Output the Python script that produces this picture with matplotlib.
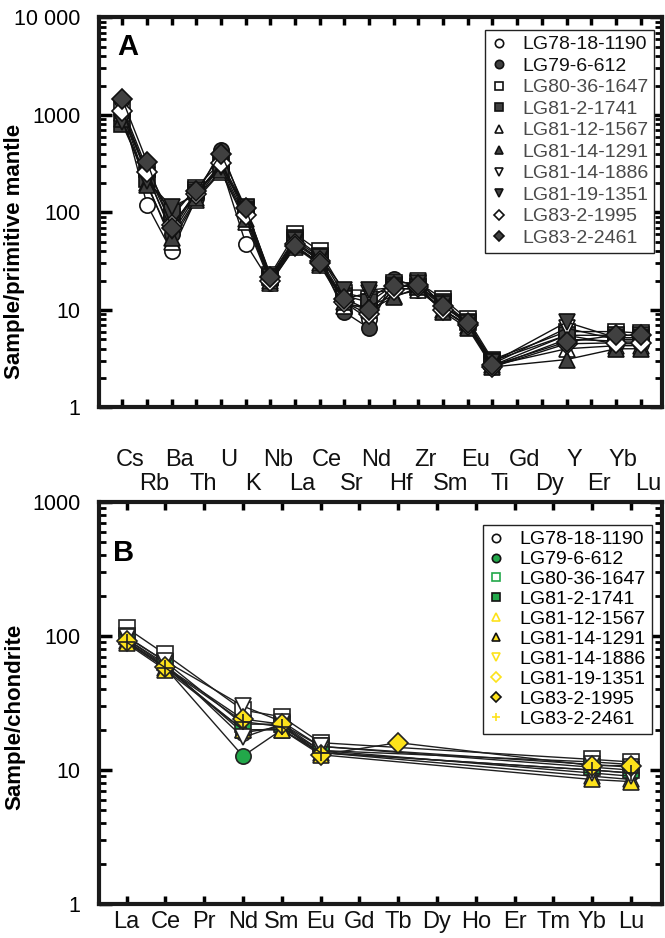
import numpy as np
import matplotlib
matplotlib.use("Agg")
import matplotlib.pyplot as plt
from matplotlib.lines import Line2D
from matplotlib.ticker import FixedLocator, FixedFormatter, LogLocator, NullFormatter

plt.rcParams['font.family'] = ['Liberation Sans', 'DejaVu Sans']

samples = ["LG78-18-1190", "LG79-6-612", "LG80-36-1647", "LG81-2-1741",
           "LG81-12-1567", "LG81-14-1291", "LG81-14-1886", "LG81-19-1351",
           "LG83-2-1995", "LG83-2-2461"]

# panel A: primitive-mantle normalised (Gd, Dy, Er not measured)
pm_elements = ["Cs", "Rb", "Ba", "Th", "U", "K", "Nb", "La", "Ce", "Sr", "Nd",
               "Hf", "Zr", "Sm", "Eu", "Ti", "Gd", "Dy", "Y", "Er", "Yb", "Lu"]
nan = np.nan
pm_lg78_18_1190 = [1100, 120, 40, 140, 300, 48, 19, 45, 30, 12, 8, 17, 16, 10, 7.0, 2.7, nan, nan, 5.5, nan, 4.5, 4.5]
pm_lg79_6_612 = [1000, 250, 60, 150, 440, 100, 21, 50, 33, 9.5, 6.5, 21, 17, 11, 7.5, 2.6, nan, nan, 5.0, nan, 4.8, 4.8]
pm_lg80_36_1647 = [1200, 280, 90, 180, 330, 110, 23, 60, 40, 15, 13, 19, 19, 13, 8.0, 3.1, nan, nan, 6.0, nan, 6.0, 5.8]
pm_lg81_2_1741 = [800, 220, 100, 170, 280, 115, 22, 55, 36, 14, 12, 18, 17, 12, 7.5, 3.0, nan, nan, 5.5, nan, 5.5, 5.5]
pm_lg81_12_1567 = [1050, 200, 50, 135, 260, 80, 19, 44, 29, 11, 11, 14, 16, 10, 6.8, 2.7, nan, nan, 4.0, nan, 4.3, 4.3]
pm_lg81_14_1291 = [900, 190, 55, 140, 270, 85, 20, 46, 30, 12, 10, 13.5, 17, 9.5, 6.5, 2.6, nan, nan, 3.1, nan, 4.0, 4.0]
pm_lg81_14_1886 = [1150, 240, 65, 160, 290, 90, 21, 50, 33, 13, 15, 16, 20, 11, 7.2, 2.8, nan, nan, 6.5, nan, 5.0, 5.0]
pm_lg81_19_1351 = [850, 210, 115, 150, 310, 105, 22, 52, 35, 16, 16, 17, 19, 11.5, 7.3, 2.9, nan, nan, 7.5, nan, 5.2, 5.2]
pm_lg83_2_1995 = [1100, 260, 75, 155, 320, 95, 20, 48, 32, 12, 9, 16, 17, 10, 7.0, 2.6, nan, nan, 4.5, nan, 4.6, 4.6]
pm_lg83_2_2461 = [1450, 330, 70, 165, 400, 110, 22, 45, 30, 13, 10, 17.5, 18, 11, 7.3, 2.7, nan, nan, 4.7, nan, 5.5, 5.5]
pm_values = [pm_lg78_18_1190, pm_lg79_6_612, pm_lg80_36_1647, pm_lg81_2_1741,
             pm_lg81_12_1567, pm_lg81_14_1291, pm_lg81_14_1886, pm_lg81_19_1351,
             pm_lg83_2_1995, pm_lg83_2_2461]

# panel B: chondrite normalised REE
ree_elements = ["La", "Ce", "Pr", "Nd", "Sm", "Eu", "Gd", "Tb", "Dy", "Ho", "Er", "Tm", "Yb", "Lu"]
ree_lg78_18_1190 = [95, 60, nan, 19, 21, 14, nan, nan, nan, nan, nan, nan, 11.5, 11]
ree_lg79_6_612 = [90, 58, nan, 12.7, 20, 13.5, nan, nan, nan, nan, nan, nan, 10, 9.5]
ree_lg80_36_1647 = [115, 73, nan, 28, 25, 16, nan, nan, nan, nan, nan, nan, 12, 11.5]
ree_lg81_2_1741 = [100, 64, nan, 22, 22, 15, nan, nan, nan, nan, nan, nan, 10.5, 10]
ree_lg81_12_1567 = [92, 58, nan, 20, 20, 13.5, nan, nan, nan, nan, nan, nan, 9, 8.5]
ree_lg81_14_1291 = [88, 56, nan, 20, 20, 13, nan, nan, nan, nan, nan, nan, 8.5, 8.2]
ree_lg81_14_1886 = [95, 62, nan, 17.5, 22, 14, nan, nan, nan, nan, nan, nan, 9.5, 9]
ree_lg81_19_1351 = [98, 65, nan, 30, 23, 15, nan, nan, nan, nan, nan, nan, 11, 10.5]
ree_lg83_2_1995 = [92, 59, nan, 24, 22, 13, nan, 16, nan, nan, nan, nan, 10.8, 10.8]
ree_lg83_2_2461 = [90, 58, nan, 23, 21, 13.5, nan, nan, nan, nan, nan, nan, 10, 9.5]
ree_values = [ree_lg78_18_1190, ree_lg79_6_612, ree_lg80_36_1647, ree_lg81_2_1741,
              ree_lg81_12_1567, ree_lg81_14_1291, ree_lg81_14_1886, ree_lg81_19_1351,
              ree_lg83_2_1995, ree_lg83_2_2461]

markers = ['o', 'o', 's', 's', '^', '^', 'v', 'v', 'D', 'D']
dark = '#404040'
green = '#22a84a'
yellow = '#fde21b'
fillA = ['white', dark, 'white', dark, 'white', dark, 'white', dark, 'white', dark]

fig = plt.figure(figsize=(6.65, 9.38), dpi=100)
axA = fig.add_axes([0.1483, 0.5656, 0.8472, 0.4158])
axB = fig.add_axes([0.1483, 0.0362, 0.8472, 0.4286])


def style_axis(ax, yt, ylab):
    ax.set_yscale('log')
    for s in ax.spines.values():
        s.set_linewidth(3)
        s.set_color('#1a1a1a')
    ax.yaxis.set_major_locator(FixedLocator(yt))
    ax.yaxis.set_major_formatter(FixedFormatter(ylab))
    ax.yaxis.set_minor_locator(LogLocator(base=10, subs=np.arange(2, 10)))
    ax.yaxis.set_minor_formatter(NullFormatter())
    ax.tick_params(axis='y', which='major', direction='in', length=9, width=2.5,
                   right=True, labelsize=15.5, pad=13)
    ax.tick_params(axis='y', which='minor', direction='in', length=5, width=2, right=True)
    ax.tick_params(axis='x', which='major', direction='in', length=6, width=2.5, top=True)
    ax.tick_params(axis='x', which='minor', bottom=False, top=False)


# ---- panel A ----
xa = np.arange(len(pm_elements))
for vals, mk, fc in zip(pm_values, markers, fillA):
    arr = np.array(vals, float)
    m = ~np.isnan(arr)
    ms = 10 if mk == 'D' else 11
    axA.plot(xa[m], arr[m], color='#111111', lw=1, marker=mk, ms=ms,
             mfc=fc, mec='#111111', mew=1.2)

style_axis(axA, [1, 10, 100, 1000, 10000], ['1', '10', '100', '1000', '10 000'])
axA.set_ylim(1, 10000)
axA.set_xlim(-0.96, 21.87)
axA.set_xticks(xa)
axA.set_xticklabels([])
trans = axA.get_xaxis_transform()
for i, el in enumerate(pm_elements):
    yrow = -0.135 if i % 2 == 0 else -0.196
    axA.text(i + 0.3, yrow, el, transform=trans, ha='center', va='center',
             fontsize=17, color='#111111')
axA.set_ylabel('Sample/primitive mantle', fontsize=16, fontweight='bold')
axA.yaxis.set_label_coords(-0.13, 0.40)
axA.text(0.034, 0.924, 'A', transform=axA.transAxes, fontsize=21,
         fontweight='bold', va='center', ha='left')

hA = [Line2D([], [], ls='none', marker=mk, ms=(5 if mk == 'D' else 6),
             mfc=fc, mec='#111111', mew=1.2) for mk, fc in zip(markers, fillA)]
legA = axA.legend(hA, samples, loc='upper right', bbox_to_anchor=(0.986, 0.968),
                  fontsize=14, frameon=True, fancybox=False, edgecolor='#222222',
                  framealpha=1, handlelength=0.8, handletextpad=0.8,
                  labelspacing=0.2, borderpad=0.3, borderaxespad=0)
legA.get_frame().set_linewidth(1)
for k, t in enumerate(legA.get_texts()):
    t.set_color('#111111' if k < 2 else '#4a4a4a')

# ---- panel B ----
fillB = ['white', green, 'white', green, 'white', yellow, 'white', 'white', yellow, '#222222']
xb = np.arange(len(ree_elements))
for k, (vals, fc) in enumerate(zip(ree_values, fillB)):
    arr = np.array(vals, float)
    m = ~np.isnan(arr)
    mk = '+' if k == 9 else markers[k]
    ms = 10 if mk == 'D' else 11
    axB.plot(xb[m], arr[m], color='#1f1f1f', lw=1, marker=mk, ms=ms,
             mfc=fc, mec='#222222', mew=1.2)

style_axis(axB, [1, 10, 100, 1000], ['1', '10', '100', '1000'])
axB.set_ylim(1, 1000)
axB.set_xlim(-0.72, 13.8)
axB.set_xticks(xb)
axB.set_xticklabels(ree_elements, fontsize=17, color='#111111')
axB.tick_params(axis='x', pad=5)
axB.set_ylabel('Sample/chondrite', fontsize=16, fontweight='bold')
axB.yaxis.set_label_coords(-0.13, 0.465)
axB.text(0.026, 0.873, 'B', transform=axB.transAxes, fontsize=21,
         fontweight='bold', va='center', ha='left')

legB_face = ['white', green, 'white', green, 'white', yellow, 'white', 'white', yellow, yellow]
legB_edge = ['#111111', '#111111', green, '#111111', yellow, '#111111', yellow, yellow, '#111111', yellow]
legB_mk = ['o', 'o', 's', 's', '^', '^', 'v', 'D', 'D', '+']
hB = [Line2D([], [], ls='none', marker=mk, ms=(5 if mk == 'D' else 6),
             mfc=fc, mec=ec, mew=1.2)
      for mk, fc, ec in zip(legB_mk, legB_face, legB_edge)]
legB = axB.legend(hB, samples, loc='upper right', bbox_to_anchor=(0.982, 0.943),
                  fontsize=14, frameon=True, fancybox=False, edgecolor='#222222',
                  framealpha=1, handlelength=0.8, handletextpad=0.8,
                  labelspacing=0.12, borderpad=0.3, borderaxespad=0)
legB.get_frame().set_linewidth(1)

fig.savefig('out.png', dpi=100)
